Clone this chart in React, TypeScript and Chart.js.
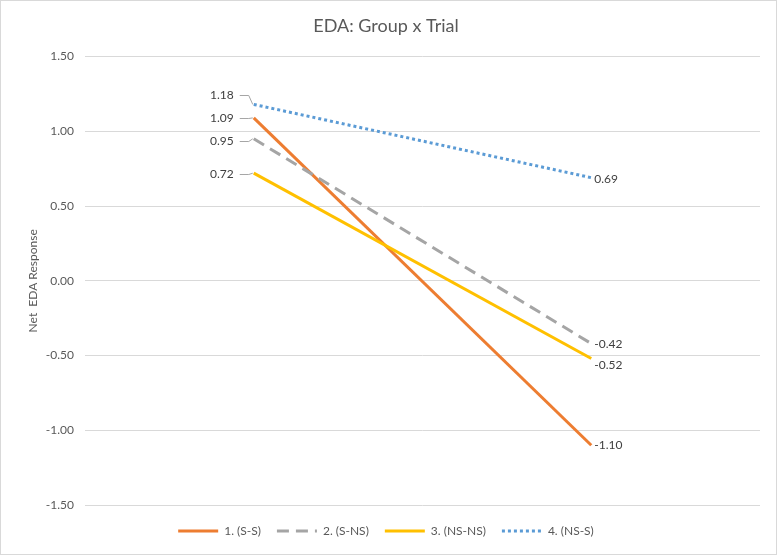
import React, { useEffect, useRef } from 'react';
import { Chart, registerables } from 'chart.js';

Chart.register(...registerables);

// ---- data ----
const categories = ['Trial 1', 'Trial 2'];
const seriesNames = ['1. (S-S)', '2. (S-NS)', '3. (NS-NS)', '4. (NS-S)'];
const ssValues = [1.09, -1.1];
const snsValues = [0.95, -0.42];
const nsnsValues = [0.72, -0.52];
const nssValues = [1.18, 0.69];
const yTickValues = [-1.5, -1.0, -0.5, 0, 0.5, 1.0, 1.5];
const chartTitle = 'EDA: Group x Trial';
const yAxisTitle = 'Net  EDA Response';

// ---- styles ----
const FONT = 'Lato, "Open Sans", sans-serif';
const colors = ['#ED7D31', '#A5A5A5', '#FFC000', '#5B9BD5'];
const dashes: number[][] = [[], [12, 7], [], [3, 3]];
const leftLabelDy = [0, 2, 1, -9];
const rightLabelDy = [0, 1, 7, 1];

const frame = {
  id: 'frame',
  beforeDraw(chart: any) {
    const { ctx, width, height } = chart;
    ctx.save();
    ctx.fillStyle = '#FFFFFF';
    ctx.fillRect(0, 0, width, height);
    ctx.strokeStyle = '#D9D9D9';
    ctx.lineWidth = 1;
    ctx.strokeRect(0.5, 0.5, width - 1, height - 1);
    ctx.restore();
  },
};

const pointLabels = {
  id: 'pointLabels',
  afterDatasetsDraw(chart: any) {
    const ctx = chart.ctx;
    ctx.save();
    ctx.font = `12px ${FONT}`;
    ctx.textBaseline = 'middle';
    ctx.fillStyle = '#404040';
    chart.data.datasets.forEach((ds: any, i: number) => {
      const meta = chart.getDatasetMeta(i);
      meta.data.forEach((pt: any, j: number) => {
        const v = ds.data[j] as number;
        const txt = v.toFixed(2);
        const px = pt.x;
        const py = pt.y;
        if (j === 0) {
          const ly = Math.round(py + leftLabelDy[i]) + 0.5;
          ctx.strokeStyle = '#A6A6A6';
          ctx.lineWidth = 1;
          ctx.setLineDash([]);
          ctx.beginPath();
          ctx.moveTo(px - 14, ly);
          ctx.lineTo(px - 5, ly);
          ctx.lineTo(px - 1, py);
          ctx.stroke();
          ctx.textAlign = 'right';
          ctx.fillText(txt, px - 20, ly);
        } else {
          const ly = py + rightLabelDy[i];
          ctx.textAlign = 'left';
          ctx.fillText(txt, px + 3, ly);
        }
      });
    });
    ctx.restore();
  },
};

export default function App() {
  const ref = useRef<HTMLCanvasElement | null>(null);

  useEffect(() => {
    document.body.style.margin = '0';
    const canvas = ref.current;
    if (!canvas) return;
    const valueSets = [ssValues, snsValues, nsnsValues, nssValues];
    const chart = new Chart(canvas, {
      type: 'line',
      data: {
        labels: categories,
        datasets: valueSets.map((vals, i) => ({
          label: seriesNames[i],
          data: vals,
          borderColor: colors[i],
          backgroundColor: colors[i],
          borderWidth: 3,
          borderDash: dashes[i],
          borderCapStyle: 'butt',
          pointRadius: 0,
          pointHoverRadius: 0,
          pointBorderWidth: 3,
          pointStyle: 'line',
          tension: 0,
          fill: false,
          order: 4 - i,
        })),
      },
      options: {
        responsive: false,
        animation: false,
        events: [],
        layout: { padding: { top: 5, left: 12, right: 17, bottom: 8 } },
        scales: {
          x: {
            type: 'category',
            display: false,
            offset: true,
          },
          y: {
            min: -1.5,
            max: 1.5,
            afterFit: (s: any) => {
              s.width = 73;
            },
            afterBuildTicks: (s: any) => {
              s.ticks = yTickValues.map((v) => ({ value: v }));
            },
            ticks: {
              padding: 11,
              color: '#595959',
              font: { family: FONT, size: 12 },
              callback: (v: any) => Number(v).toFixed(2),
            },
            grid: { color: '#D9D9D9', lineWidth: 1, drawTicks: false },
            border: { display: false },
            title: {
              display: true,
              text: yAxisTitle,
              color: '#595959',
              font: { family: FONT, size: 12 },
              padding: { top: 14, bottom: 0 },
            },
          },
        },
        plugins: {
          title: {
            display: true,
            text: chartTitle,
            color: '#595959',
            font: { family: FONT, size: 18, weight: 'normal' },
            padding: { top: 10, bottom: 20 },
          },
          legend: {
            position: 'bottom',
            title: {
              display: true,
              text: '',
              font: { size: 0 },
              padding: { top: 4, bottom: 0 },
            },
            labels: {
              usePointStyle: true,
              pointStyle: 'line',
              pointStyleWidth: 40,
              boxWidth: 40,
              boxHeight: 12,
              padding: 16,
              color: '#595959',
              font: { family: FONT, size: 12 },
              sort: (a: any, b: any) => a.datasetIndex - b.datasetIndex,
              generateLabels: (ch: any) => {
                const items = Chart.defaults.plugins.legend.labels.generateLabels(ch);
                return items.map((it: any) => ({
                  ...it,
                  lineDash: dashes[it.datasetIndex],
                  lineWidth: 3,
                  strokeStyle: colors[it.datasetIndex],
                  fillStyle: colors[it.datasetIndex],
                  lineCap: 'butt',
                }));
              },
            },
          },
          tooltip: { enabled: false },
        },
      },
      plugins: [frame, pointLabels],
    } as any);
    return () => chart.destroy();
  }, []);

  return (
    <div style={{ width: 777, height: 555 }}>
      <canvas ref={ref} width={777} height={555} style={{ display: 'block' }} />
    </div>
  );
}
